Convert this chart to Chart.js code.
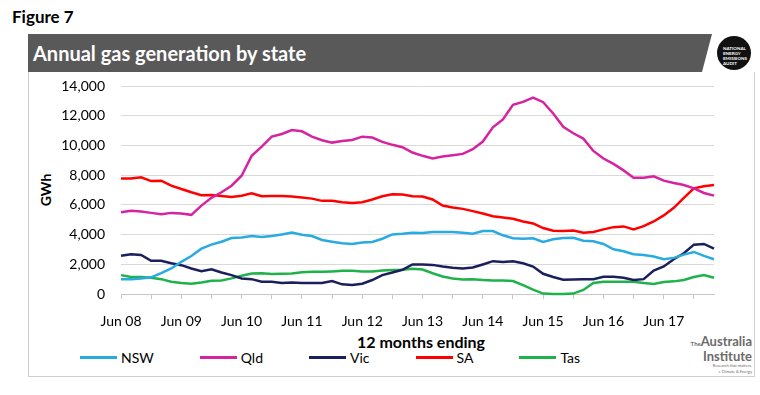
<!DOCTYPE html>
<html lang="en">
<head>
<meta charset="UTF-8">
<title>Annual gas generation by state</title>
<script src="https://cdn.jsdelivr.net/npm/chart.js"></script>
<style>
  body { margin: 0; background: #fff; font-family: Lato, "Open Sans", sans-serif; }
  #wrap { position: relative; width: 760px; height: 395px; overflow: hidden; }
  .abs { position: absolute; }
  #fig { left: 12px; top: 6px; font-weight: bold; font-size: 17px; color: #000; }
  #bar { left: 28px; top: 34px; width: 684px; height: 38px; background: #595959;
         clip-path: polygon(0 0, 100% 0, calc(100% - 10px) 100%, 0 100%); }
  #title { left: 33px; top: 34px; line-height: 38px; color: #fff; font-weight: bold; font-size: 20px; }
  #frame { left: 28px; top: 72px; width: 725px; height: 304px; border: 1px solid #cfcfcf; border-top: none; }
  #badge { left: 717px; top: 36px; width: 34px; height: 34px; border-radius: 50%; background: #111;
           color: #fff; font-size: 4.5px; font-weight: bold; line-height: 5px; padding: 10px 0 0 6px; box-sizing: border-box; }
  #gwh { left: 45px; top: 190px; transform: translate(-50%, -50%) rotate(-90deg); font-weight: bold; font-size: 14px; }
  #xtitle { left: 421px; top: 341px; transform: translate(-50%, -50%); font-weight: bold; font-size: 16px; white-space: nowrap; }
  #legend { left: 80px; top: 349px; display: flex; gap: 46px; font-size: 14px; }
  #legend span { display: flex; align-items: center; }
  #legend i { display: inline-block; width: 37px; height: 3px; margin-right: 4px; }
  #tai { left: 688px; top: 335px; width: 64px; text-align: right; color: #6b6b6b; font-weight: bold; font-size: 13px; line-height: 13px; }
  #tai small { display: block; font-size: 4px; line-height: 6px; font-weight: normal; }
  canvas { position: absolute; left: 0; top: 0; }
</style>
</head>
<body>
<div id="wrap">
  <div class="abs" id="frame"></div>
  <div class="abs" id="fig">Figure 7</div>
  <div class="abs" id="bar"></div>
  <div class="abs" id="title">Annual gas generation by state</div>
  <div class="abs" id="badge">NATIONAL<br>ENERGY<br>EMISSIONS<br>AUDIT</div>
  <div class="abs" id="gwh">GWh</div>
  <div class="abs" id="xtitle">12 months ending</div>
  <div class="abs" id="legend"></div>
  <div class="abs" id="tai"><span style="font-size:6px">The</span>Australia<br>Institute<small>Research that matters.</small><small>+ Climate &amp; Energy</small></div>
  <canvas id="myChart" width="760" height="395"></canvas>
</div>
<script>
// bimonthly points, Jun 08 .. Apr 18
const months = ['Jun', 'Aug', 'Oct', 'Dec', 'Feb', 'Apr'];
let labels = [];
for (let k = 0; k < 60; k++) {
    const m = 5 + k * 2;              // months since Jan 08
    const yr = 8 + Math.floor(m / 12);
    labels.push(months[k % 6] + ' ' + String(yr).padStart(2, '0'));
}

const seriesNames = ['NSW', 'Qld', 'Vic', 'SA', 'Tas'];
const seriesColors = ['#29abe2', '#d6239f', '#1b1f5c', '#ff0000', '#1fb24a'];

const nsw = [1000, 1000, 1050, 1120, 1400, 1720, 2160, 2560, 3050, 3320, 3520, 3770, 3810, 3900, 3840,
    3900, 4010, 4130, 3990, 3900, 3640, 3520, 3410, 3370, 3460, 3500, 3720, 4010, 4060, 4130,
    4100, 4170, 4170, 4170, 4130, 4060, 4240, 4240, 3950, 3750, 3720, 3750, 3500, 3680, 3770,
    3790, 3590, 3550, 3370, 3010, 2880, 2680, 2630, 2520, 2340, 2430, 2650, 2830, 2570, 2340];
const qld = [5510, 5600, 5550, 5460, 5370, 5460, 5420, 5330, 5950, 6470, 6850, 7290, 7960, 9300, 9920,
    10590, 10770, 11040, 10950, 10590, 10350, 10190, 10300, 10370, 10590, 10530, 10240, 10040, 9880, 9520,
    9300, 9120, 9250, 9340, 9430, 9750, 10260, 11220, 11750, 12730, 12930, 13220, 12910, 12150, 11260,
    10820, 10460, 9630, 9120, 8760, 8320, 7830, 7830, 7920, 7630, 7470, 7340, 7110, 6800, 6620];
const vic = [2570, 2680, 2630, 2230, 2230, 2070, 1940, 1720, 1540, 1670, 1450, 1270, 1050, 1000, 830,
    830, 740, 780, 740, 740, 740, 870, 650, 600, 690, 940, 1270, 1450, 1630, 1990,
    1990, 1960, 1850, 1760, 1720, 1780, 1990, 2210, 2160, 2210, 2070, 1850, 1360, 1140, 960,
    980, 1000, 1000, 1160, 1160, 1090, 940, 1000, 1580, 1850, 2340, 2740, 3320, 3370, 3060];
const sa = [7780, 7780, 7850, 7600, 7630, 7290, 7070, 6850, 6650, 6670, 6600, 6530, 6620, 6780, 6580,
    6600, 6600, 6560, 6490, 6420, 6270, 6270, 6180, 6130, 6180, 6360, 6580, 6710, 6690, 6580,
    6560, 6360, 5950, 5820, 5730, 5580, 5420, 5240, 5150, 5060, 4880, 4750, 4440, 4260, 4240,
    4280, 4130, 4170, 4350, 4500, 4550, 4350, 4570, 4880, 5290, 5800, 6470, 7110, 7250, 7340];
const tas = [1270, 1140, 1140, 1090, 1000, 830, 740, 690, 780, 890, 910, 1050, 1230, 1380, 1400,
    1340, 1360, 1380, 1470, 1490, 1490, 1520, 1560, 1560, 1520, 1520, 1580, 1610, 1630, 1700,
    1650, 1400, 1180, 1050, 980, 1000, 940, 910, 910, 870, 600, 290, 30, 0, 0,
    30, 270, 740, 830, 830, 830, 830, 740, 670, 800, 850, 940, 1140, 1270, 1090];
const seriesData = [nsw, qld, vic, sa, tas];

const yTicks = [0, 2000, 4000, 6000, 8000, 10000, 12000, 14000];

// legend in html
seriesNames.forEach((name, i) => {
    document.getElementById('legend').insertAdjacentHTML('beforeend',
        `<span><i style="background:${seriesColors[i]}"></i>${name}</span>`);
});

const setting = {
    type: 'line',
    data: {
        labels: labels,
        datasets: seriesNames.map((name, i) => ({
            label: name,
            data: seriesData[i],
            borderColor: seriesColors[i],
            backgroundColor: seriesColors[i],
            borderWidth: 2.5,
            pointRadius: 0,
            tension: 0,
            clip: false
        }))
    },
    options: {
        responsive: false,
        animation: false,
        layout: { padding: { left: 61, right: 46, top: 86, bottom: 61 } },
        plugins: { legend: { display: false }, tooltip: { enabled: false } },
        scales: {
            x: {
                offset: false,
                afterFit: s => { s.height = 40; },
                border: { display: true, color: '#c8c8c8' },
                grid: {
                    drawOnChartArea: false, drawTicks: true, tickLength: 5,
                    color: c => (c.index % 3 === 0 ? '#c8c8c8' : 'rgba(0,0,0,0)')
                },
                ticks: {
                    autoSkip: false, maxRotation: 0, padding: 14, color: '#000',
                    font: { family: 'Lato', size: 14 },
                    callback: (v, i) => (i % 6 === 0 ? labels[i] : '')
                }
            },
            y: {
                min: yTicks[0], max: yTicks[yTicks.length - 1],
                afterFit: s => { s.width = 60; },
                afterBuildTicks: s => { s.ticks = yTicks.map(v => ({ value: v })); },
                border: { display: false },
                grid: { color: '#d9d9d9', drawTicks: false },
                ticks: {
                    padding: 16, color: '#000',
                    font: { family: 'Lato', size: 14 },
                    callback: v => v.toLocaleString('en-US')
                }
            }
        }
    }
};

new Chart(document.getElementById('myChart'), setting);
</script>
</body>
</html>
